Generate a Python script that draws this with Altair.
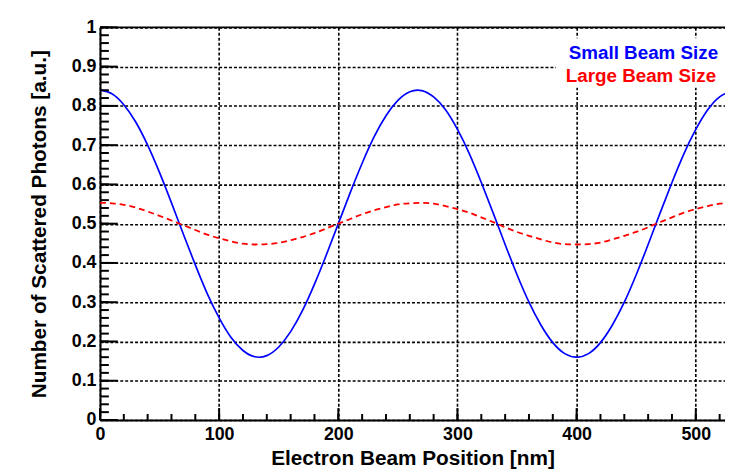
import altair as alt
import pandas as pd

# Electron beam position [nm]
positions = [0, 10, 20, 30, 40, 50, 60, 70, 80, 90, 100, 110, 120, 130, 140, 150, 160, 170, 180, 190,
             200, 210, 220, 230, 240, 250, 260, 270, 280, 290, 300, 310, 320, 330, 340, 350, 360, 370,
             380, 390, 400, 410, 420, 430, 440, 450, 460, 470, 480, 490, 500, 510, 520, 530]

small_beam = [0.840, 0.831, 0.803, 0.759, 0.700, 0.630, 0.553, 0.473, 0.395, 0.322, 0.260, 0.210,
              0.177, 0.161, 0.164, 0.186, 0.225, 0.279, 0.346, 0.421, 0.500, 0.579, 0.654, 0.721,
              0.775, 0.814, 0.836, 0.839, 0.823, 0.790, 0.740, 0.678, 0.605, 0.527, 0.447, 0.370,
              0.300, 0.242, 0.197, 0.169, 0.160, 0.169, 0.197, 0.242, 0.300, 0.370, 0.447, 0.527,
              0.605, 0.678, 0.740, 0.790, 0.823, 0.839]

large_beam = [0.553, 0.552, 0.548, 0.541, 0.531, 0.520, 0.508, 0.496, 0.484, 0.472, 0.463, 0.455,
              0.449, 0.447, 0.448, 0.451, 0.458, 0.466, 0.476, 0.488, 0.500, 0.512, 0.524, 0.534,
              0.542, 0.549, 0.552, 0.553, 0.551, 0.545, 0.537, 0.528, 0.516, 0.504, 0.491, 0.479,
              0.469, 0.460, 0.452, 0.448, 0.447, 0.448, 0.452, 0.460, 0.469, 0.479, 0.491, 0.504,
              0.516, 0.528, 0.537, 0.545, 0.551, 0.553]

legend_labels = ["Small Beam Size", "Large Beam Size"]
series_colors = ["#0000ff", "#ff0000"]

x_major = [0, 100, 200, 300, 400, 500]
x_minor = [i * 20 for i in range(27)]
y_major = [0, 0.1, 0.2, 0.3, 0.4, 0.5, 0.6, 0.7, 0.8, 0.9, 1.0]
y_minor = [round(i * 0.02, 2) for i in range(51)]

X_TITLE = "Electron Beam Position [nm]"
Y_TITLE = "Number of Scattered Photons [a.u.]"
FONT = "Liberation Sans"

W, H = 632, 397

xscale = alt.Scale(domain=[0, 524.5], nice=False, zero=False)
yscale = alt.Scale(domain=[0, 1], nice=False)

df = pd.DataFrame({"x": positions, "small": small_beam, "large": large_beam})

common = dict(grid=True, gridColor="black", gridDash=[3, 2], gridWidth=1.6, tickSize=0,
              domainColor="black", domainWidth=2,
              labelFont=FONT, labelFontWeight="bold", labelFontSize=18, labelColor="black",
              titleFont=FONT, titleFontWeight="bold", titleFontSize=21, titleColor="black",
              labelFlush=False)

x_axis = alt.Axis(values=x_major, labelPadding=6, titlePadding=4, **common)
y_axis = alt.Axis(values=y_major,
                  labelExpr="datum.value == 0 ? '0' : datum.value == 1 ? '1' : format(datum.value, '.1f')",
                  labelPadding=4, titlePadding=22, **common)

# axes carrier layer (invisible points)
axes_layer = alt.Chart(df).mark_point(opacity=0).encode(
    x=alt.X("x:Q", scale=xscale, axis=x_axis, title=X_TITLE),
    y=alt.Y("small:Q", scale=yscale, axis=y_axis, title=Y_TITLE),
)

blue = alt.Chart(df).mark_line(color=series_colors[0], strokeWidth=1.7, clip=True,
                               interpolate="natural").encode(
    x=alt.X("x:Q", scale=xscale, axis=None),
    y=alt.Y("small:Q", scale=yscale, axis=None),
)
red = alt.Chart(df).mark_line(color=series_colors[1], strokeWidth=1.8, strokeDash=[6, 4], clip=True,
                              interpolate="natural").encode(
    x=alt.X("x:Q", scale=xscale, axis=None),
    y=alt.Y("large:Q", scale=yscale, axis=None),
)

# legend background box and entries
leg_box = alt.Chart(pd.DataFrame({"a": [0]})).mark_rect(color="white").encode(
    x=alt.value(461), x2=alt.value(W), y=alt.value(11), y2=alt.value(61))
leg_small = alt.Chart(pd.DataFrame({"label": [legend_labels[0]]})).mark_text(
    align="right", baseline="alphabetic", font=FONT, fontWeight="bold", fontSize=19,
    color=series_colors[0]).encode(x=alt.value(625), y=alt.value(32), text="label:N")
leg_large = alt.Chart(pd.DataFrame({"label": [legend_labels[1]]})).mark_text(
    align="right", baseline="alphabetic", font=FONT, fontWeight="bold", fontSize=19,
    color=series_colors[1]).encode(x=alt.value(623), y=alt.value(55), text="label:N")

# inward tick marks
ymaj = alt.Chart(pd.DataFrame({"small": y_major})).mark_rule(color="black", strokeWidth=2).encode(
    y=alt.Y("small:Q", scale=yscale, axis=None), x=alt.value(0), x2=alt.value(18))
ymin = alt.Chart(pd.DataFrame({"small": y_minor})).mark_rule(color="black", strokeWidth=2).encode(
    y=alt.Y("small:Q", scale=yscale, axis=None), x=alt.value(0), x2=alt.value(9))
xmaj = alt.Chart(pd.DataFrame({"x": x_major})).mark_rule(color="black", strokeWidth=2).encode(
    x=alt.X("x:Q", scale=xscale, axis=None), y=alt.value(H), y2=alt.value(H - 12))
xmin = alt.Chart(pd.DataFrame({"x": x_minor})).mark_rule(color="black", strokeWidth=2, clip=True).encode(
    x=alt.X("x:Q", scale=xscale, axis=None), y=alt.value(H), y2=alt.value(H - 6))
top = alt.Chart(pd.DataFrame({"small": [1.0]})).mark_rule(color="black", strokeWidth=2).encode(
    y=alt.Y("small:Q", scale=yscale, axis=None))

chart = alt.layer(axes_layer, leg_box, blue, red, leg_small, leg_large,
                  ymin, ymaj, xmin, xmaj, top).resolve_scale(
    x="independent", y="independent"
).properties(
    width=W, height=H,
    autosize=alt.AutoSizeParams(type="none"),
    padding={"left": 93, "top": 17, "right": 0, "bottom": 50},
    background="white",
).configure_view(stroke=None)

chart.save("out.html", embed_options={"renderer": "svg", "actions": False})
